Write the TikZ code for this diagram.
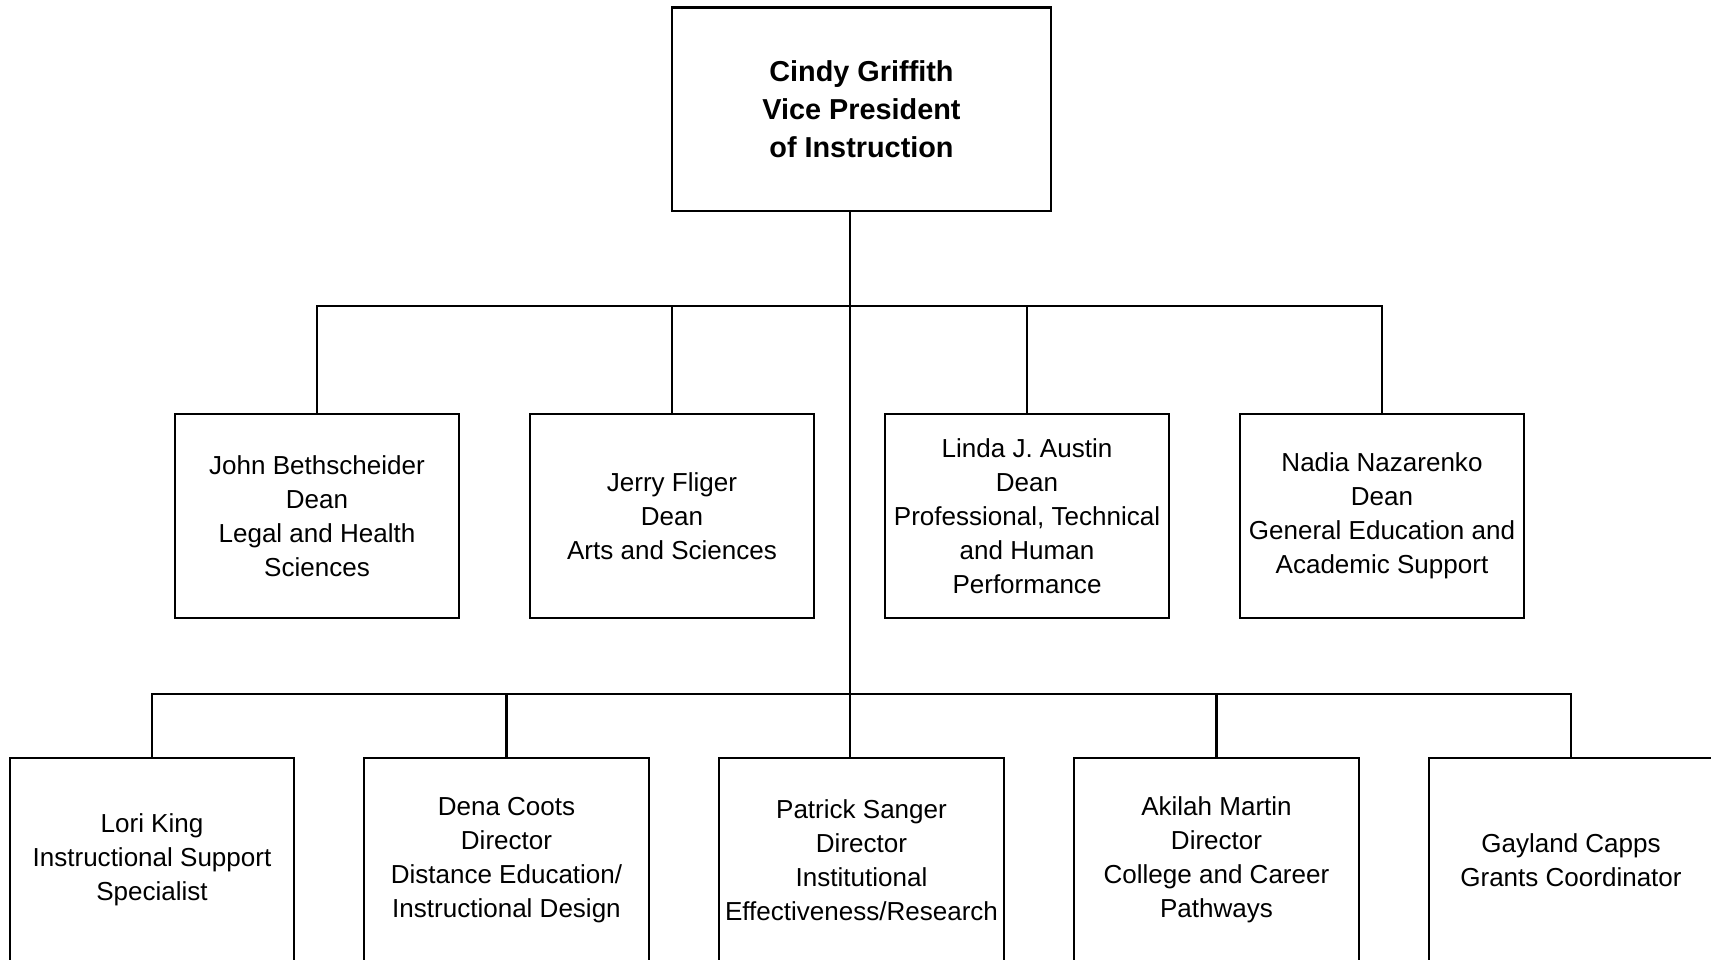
\documentclass[tikz,border=0pt]{standalone}
\usepackage{fontspec}
\setmainfont{Liberation Sans}
\usepackage{tikz}
\newcommand{\dropLine}[2]{%%
  %% A short line from the bar down to a box.
  \draw[lineStyle] (#2 -| #1.north) -- (#1.north);
}

\begin{document}
\begin{tikzpicture}[%%
  x=0.01cm,y=-0.01cm,%%
  lineStyle/.style={-,line width=0.6pt,black},%%
  boxStyle/.style={draw,line width=0.6pt,rectangle,align=center,inner sep=1pt,%%
    minimum width=2.84cm,minimum height=2.04cm,font=\fontsize{7.4pt}{9.7pt}\selectfont},%%
  headStyle/.style={boxStyle,minimum width=3.79cm,minimum height=2.03cm,%%
    font=\fontsize{8.2pt}{10.8pt}\selectfont\bfseries},%%
  staffStyle/.style={boxStyle,minimum height=2.04cm}%%
]
%%
%% The page, cut at the lower and right edges.
\useasboundingbox (0,0) rectangle (1711,959);
\clip (0,0) rectangle (1711,959);
%%
%% Rows and columns.
\pgfmathsetmacro{\yhead}{109}
\pgfmathsetmacro{\ydean}{516}
\pgfmathsetmacro{\ystaff}{860}
\pgfmathsetmacro{\xtrunk}{850}
\coordinate (trunk) at (\xtrunk,0);
\coordinate (barA) at (\xtrunk,306);
\coordinate (barB) at (\xtrunk,694);
%%
%% The vice president.
\node[headStyle] (vp) at (861.5,\yhead) {Cindy Griffith\\Vice President\\of Instruction};
%%
%% The deans.
\node[boxStyle] (bethscheider) at (317,\ydean) {John Bethscheider\\Dean\\Legal and Health\\Sciences};
\node[boxStyle] (fliger) at (672,\ydean) {Jerry Fliger\\Dean\\Arts and Sciences};
\node[boxStyle] (austin) at (1027,\ydean) {Linda J. Austin\\Dean\\Professional, Technical\\and Human\\Performance};
\node[boxStyle] (nazarenko) at (1382,\ydean) {Nadia Nazarenko\\Dean\\General Education and\\Academic Support};
%%
%% The staff.
\node[staffStyle] (king) at (152,\ystaff) {Lori King\\Instructional Support\\Specialist};
\node[staffStyle] (coots) at (506.5,\ystaff) {Dena Coots\\Director\\Distance Education/\\Instructional Design};
\node[staffStyle] (sanger) at (861.5,\ystaff) {Patrick Sanger\\Director\\Institutional\\Effectiveness/Research};
\node[staffStyle] (martin) at (1216.5,\ystaff) {Akilah Martin\\Director\\College and Career\\Pathways};
\node[staffStyle] (capps) at (1571,\ystaff) {Gayland Capps\\Grants Coordinator};
%%
%% The lines.
\draw[lineStyle] (vp.south -| trunk) -- (sanger.north -| trunk);
\draw[lineStyle] (bethscheider.north) |- (barA) -| (nazarenko.north);
\dropLine{fliger}{barA}
\dropLine{austin}{barA}
\draw[lineStyle] (king.north) |- (barB) -| (capps.north);
\dropLine{coots}{barB}
\dropLine{martin}{barB}
\end{tikzpicture}
\end{document}
